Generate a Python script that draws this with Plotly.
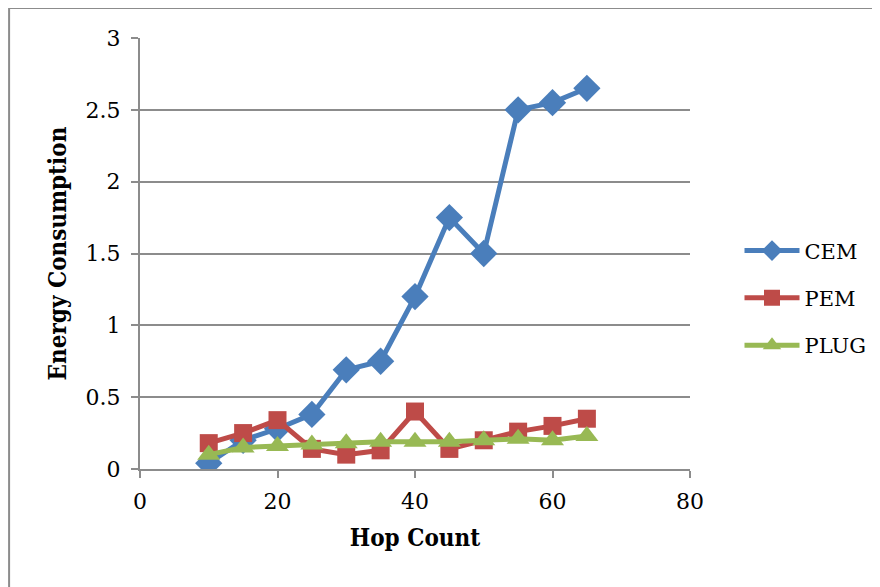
import plotly.graph_objects as go

hops = [10, 15, 20, 25, 30, 35, 40, 45, 50, 55, 60, 65]
cem = [0.04, 0.20, 0.28, 0.38, 0.69, 0.75, 1.20, 1.75, 1.50, 2.50, 2.55, 2.65]
pem = [0.18, 0.25, 0.34, 0.14, 0.10, 0.13, 0.40, 0.14, 0.20, 0.26, 0.30, 0.35]
plug = [0.10, 0.15, 0.16, 0.17, 0.18, 0.19, 0.19, 0.19, 0.20, 0.21, 0.20, 0.23]

x_ticks = [0, 20, 40, 60, 80]
y_ticks = [0, 0.5, 1, 1.5, 2, 2.5, 3]
y_tick_text = ["0", "0.5", "1", "1.5", "2", "2.5", "3"]

series = [
    ("CEM", cem, "#4A7EBB", "diamond", 21),
    ("PEM", pem, "#BE4B48", "square", 18),
    ("PLUG", plug, "#98B954", "triangle-up", 20),
]

fig = go.Figure()
for name, vals, color, sym, size in series:
    fig.add_trace(go.Scatter(
        x=hops, y=vals, name=name, mode="lines+markers",
        line=dict(color=color, width=5),
        marker=dict(symbol=sym, size=size, color=color),
        legendgroup=name,
    ))

font_family = "DejaVu Serif"
fig.update_layout(
    width=880, height=587,
    margin=dict(l=132, r=198, t=30, b=126),
    paper_bgcolor="white", plot_bgcolor="white",
    font=dict(family=font_family, size=22, color="black"),
    showlegend=True,
    legend=dict(
        x=1.09, xanchor="left", y=0.397, yanchor="middle",
        font=dict(size=21), itemwidth=55, tracegroupgap=17,
        bgcolor="rgba(0,0,0,0)",
    ),
    xaxis=dict(
        range=[0, 80], tickvals=x_ticks, showgrid=False, zeroline=False,
        showline=True, linecolor="#8C8C8C", linewidth=2,
        ticks="outside", ticklen=7, tickcolor="#8C8C8C", tickwidth=2,
        ticklabelstandoff=5,
        title=dict(text="<b>Hop Count</b>", standoff=16,
                   font=dict(size=24, family="DejaVu Serif Condensed")),
    ),
    yaxis=dict(
        range=[0, 3], tickvals=y_ticks, ticktext=y_tick_text,
        showgrid=True, gridcolor="#8C8C8C", gridwidth=2, zeroline=False,
        showline=True, linecolor="#8C8C8C", linewidth=2,
        ticks="outside", ticklen=7, tickcolor="#8C8C8C", tickwidth=2,
        ticklabelstandoff=6,
        title=dict(text="<b>Energy Consumption</b>", standoff=12,
                   font=dict(size=24, family="DejaVu Serif Condensed")),
    ),
)

# outer chart border (top and left visible)
fig.add_shape(type="rect", xref="paper", yref="paper",
              x0=-0.238, x1=1.6, y0=-0.6, y1=1.0696,
              line=dict(color="#8C8C8C", width=2), layer="below")

fig.write_html("out.html")
